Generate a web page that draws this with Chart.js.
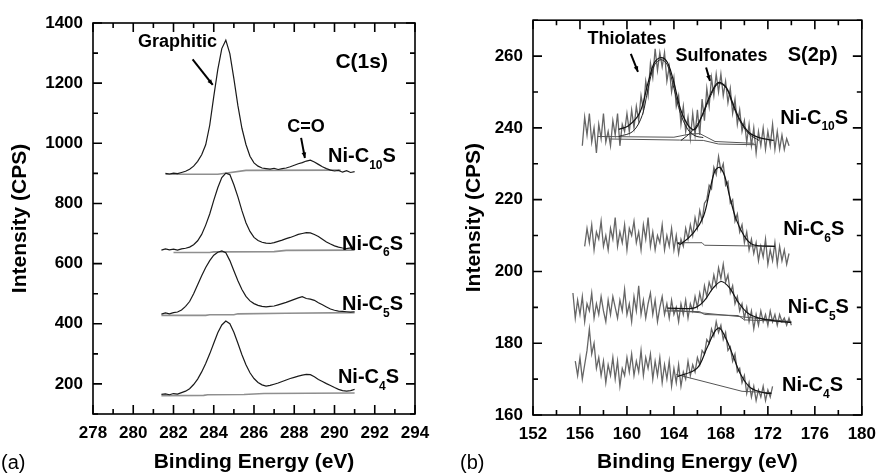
<!DOCTYPE html>
<html>
<head>
<meta charset="utf-8">
<script src="https://cdn.jsdelivr.net/npm/chart.js@4/dist/chart.umd.min.js"></script>
<style>
  body { margin: 0; background: #fff; }
  #wrap { position: relative; width: 885px; height: 475px; }
  #wrap canvas { position: absolute; top: 0; }
</style>
</head>
<body>
<div id="wrap">
  <canvas id="chartC" width="440" height="475" style="left:0"></canvas>
  <canvas id="chartS" width="445" height="475" style="left:440px"></canvas>
</div>
<script>
// ---- (a) C(1s) spectra, 0.2 eV steps ----
var cStep = 0.2;
var c10Start = 281.6;
var c10Counts = [900, 898, 901, 899, 903, 907, 914, 924, 940, 962, 995, 1060, 1155, 1245, 1315, 1343,
  1298, 1215, 1125, 1050, 996, 957, 935, 924, 918, 916, 914, 917, 913, 916, 918, 922, 927, 932, 936,
  941, 944, 938, 930, 922, 916, 911, 908, 910, 904, 909, 903, 906];
var c6Start = 281.4;
var c6Counts = [645, 649, 646, 648, 645, 649, 651, 655, 663, 676, 697, 728, 765, 810, 852, 886, 901,
  896, 862, 822, 776, 736, 707, 687, 677, 671, 668, 667, 670, 674, 678, 683, 687, 692, 697, 700, 703,
  702, 697, 690, 681, 672, 665, 659, 655, 652, 650, 652, 649];
var c5Start = 281.4;
var c5Counts = [432, 436, 433, 437, 439, 446, 458, 474, 500, 530, 560, 587, 610, 628, 638, 642, 636,
  610, 576, 543, 514, 491, 476, 467, 461, 458, 456, 458, 459, 463, 467, 471, 476, 481, 486, 490, 484,
  482, 478, 470, 463, 456, 449, 445, 442, 441, 440, 439, 440];
var c4Start = 281.4;
var c4Counts = [165, 167, 164, 168, 166, 171, 176, 184, 198, 216, 240, 268, 300, 335, 370, 396, 409,
  400, 372, 335, 297, 264, 237, 218, 205, 197, 193, 195, 199, 203, 208, 213, 218, 222, 226, 229, 232,
  231, 224, 215, 208, 201, 195, 188, 182, 178, 176, 178, 182];
var c10Base = [[281.6, 897], [284.2, 897], [284.4, 899], [285.6, 910], [290.3, 911]];
var c6Base = [[282.0, 637], [283.8, 637], [284.0, 639], [287.0, 640], [287.6, 644], [291.0, 645]];
var c5Base = [[281.4, 428], [283.6, 428], [283.8, 430], [285.0, 430], [285.2, 433], [287.6, 435], [291.0, 437]];
var c4Base = [[281.4, 161], [283.5, 162], [283.7, 164], [285.5, 165], [286.5, 168], [291.0, 170]];

// ---- (b) S(2p) spectra, 0.2 eV steps ----
var sStep = 0.2;
var s10Start = 156.2;
var s10Counts = [235, 243, 238, 244, 236, 240, 233, 241, 237, 244, 236, 239, 235, 242, 238, 244, 235,
  241, 239, 244, 239, 245, 240, 246, 242, 249, 245, 253, 249, 258, 254, 262, 256, 261, 257, 261, 253,
  257, 250, 254, 246, 249, 241, 246, 239, 243, 237, 244, 238, 245, 238, 248, 242, 251, 246, 254, 249,
  255, 250, 255, 249, 253, 247, 251, 244, 248, 241, 245, 239, 242, 236, 241, 235, 240, 233, 239, 235,
  240, 234, 239, 235, 241, 234, 239, 234, 238, 234, 237, 235];
var s6Start = 156.4;
var s6Counts = [207, 212, 208, 213, 206, 211, 209, 214, 207, 210, 206, 212, 209, 215, 207, 211, 208,
  213, 206, 212, 210, 214, 208, 211, 206, 213, 209, 215, 207, 211, 206, 210, 208, 213, 206, 210, 207,
  212, 206, 210, 205, 209, 207, 212, 209, 213, 210, 215, 212, 217, 214, 219, 220, 224, 223, 229, 227,
  232, 228, 230, 224, 225, 219, 220, 214, 216, 211, 213, 208, 211, 206, 209, 205, 208, 203, 207, 204,
  209, 202, 206, 203, 208, 202, 207, 203, 206, 202, 205];
var s5Start = 155.4;
var s5Counts = [194, 187, 192, 188, 193, 186, 191, 189, 194, 187, 191, 188, 193, 189, 186, 192, 188,
  193, 190, 187, 192, 189, 195, 188, 191, 186, 193, 189, 196, 188, 192, 187, 191, 194, 188, 192, 186,
  190, 193, 188, 191, 187, 192, 188, 190, 186, 191, 188, 192, 187, 191, 189, 193, 190, 194, 191, 196,
  193, 197, 195, 199, 196, 201, 198, 202, 197, 199, 194, 196, 191, 193, 189, 191, 187, 190, 186, 189,
  184, 188, 185, 189, 186, 188, 185, 189, 186, 188, 185, 188, 186, 187, 185, 187, 185];
var s4Start = 155.6;
var s4Counts = [175, 171, 176, 170, 174, 178, 184, 177, 180, 173, 176, 171, 175, 169, 174, 171, 176,
  170, 175, 168, 173, 171, 176, 172, 177, 171, 175, 172, 178, 171, 176, 173, 177, 170, 175, 171, 176,
  169, 174, 170, 175, 168, 173, 169, 174, 168, 172, 170, 175, 171, 174, 172, 176, 174, 178, 177, 181,
  180, 184, 182, 186, 183, 185, 181, 183, 178, 179, 175, 177, 172, 173, 169, 171, 166, 169, 165, 168,
  164, 167, 165, 168, 164, 167, 165, 168];
// fitted envelopes / components / backgrounds
var s10Fit = [[159.3, 239.6], [160.1, 240.5], [161.1, 244.3], [161.8, 252.6], [162.34, 258.2], [162.9, 259.6],
  [163.45, 258.2], [164.0, 252.6], [164.56, 245.2], [165.26, 240.5], [165.8, 239.6], [166.5, 244.3],
  [167.07, 249], [167.77, 252.6], [168.47, 251.2], [169.0, 247], [169.6, 242.4], [170.4, 238.7],
  [171.25, 237.3], [172.5, 236.5]];
var s10Thiol = [[159.3, 237.6], [160.5, 239], [161.3, 243.5], [161.8, 251], [162.34, 257.5], [162.9, 259],
  [163.45, 257.5], [164.0, 251], [164.56, 244], [165.2, 239.5], [165.8, 237.8], [166.5, 237.3]];
var s10Sulf = [[164.6, 236.5], [165.3, 238.3], [165.8, 240], [166.5, 244], [167.07, 248.5], [167.77, 252.3],
  [168.47, 251], [169.0, 246.5], [169.6, 242], [170.4, 238.3], [171.25, 236.5]];
var s10BaseA = [[157.5, 237.6], [164.0, 237.4], [165.4, 238.3], [166.2, 238.4], [167.5, 236.2], [170.8, 235.7]];
var s10BaseB = [[158.5, 236.9], [164.5, 236.6], [166.5, 236.5], [167.8, 235.5], [171.0, 235.3]];
var s6Fit = [[164.3, 208.0], [164.56, 207.6], [165.68, 210.8], [166.52, 215.4], [167.07, 222.8], [167.49, 228],
  [167.9, 229], [168.32, 226.6], [168.74, 221], [169.3, 214.5], [170.0, 209.8], [170.7, 207.5], [172.6, 207.0]];
var s6Base = [[164.3, 208], [166.4, 208], [166.6, 207.3], [172.6, 207]];
var s5Fit = [[163.45, 189.8], [165.68, 189.8], [166.52, 191.6], [167.35, 195.4], [168.05, 197.2], [168.74, 195.4],
  [169.44, 191.6], [170.28, 188.4], [171.25, 187], [172.92, 186.1], [174.0, 185.8]];
var s5BaseA = [[163.3, 189.0], [166.2, 188.8], [166.6, 188.0], [169.5, 187.7], [170.0, 186.5], [174.0, 186.0]];
var s5BaseB = [[163.7, 189.3], [173.7, 186.1]];
var s4Fit = [[164.3, 170.7], [165.96, 173], [166.8, 178.6], [167.49, 183.3], [167.9, 184.2], [168.47, 181],
  [169.0, 176.8], [169.7, 171.2], [170.55, 167.5], [171.8, 166.1], [172.3, 166.0]];
var s4Base = [[164.2, 171.3], [169.8, 166.6], [172.3, 166.2]];

var FONT = '"Liberation Sans", Arial, sans-serif';

function spectrum(start, step, counts) {
  return counts.map(function (v, i) { return { x: +(start + i * step).toFixed(2), y: v }; });
}
function pairs(list) {
  return list.map(function (p) { return { x: p[0], y: p[1] }; });
}
function line(data, color, width, tension) {
  return { data: data, showLine: true, borderColor: color, borderWidth: width,
    pointRadius: 0, tension: tension || 0, fill: false };
}

// inward ticks on all four sides plus the frame
var frameTicks = {
  id: 'frameTicks',
  afterDraw: function (chart, args, o) {
    var ctx = chart.ctx, a = chart.chartArea, x = chart.scales.x, y = chart.scales.y;
    ctx.save();
    ctx.strokeStyle = '#000';
    ctx.lineWidth = 1.6;
    ctx.strokeRect(a.left, a.top, a.right - a.left, a.bottom - a.top);
    ctx.beginPath();
    x.ticks.forEach(function (t) {
      var p = x.getPixelForValue(t.value);
      var len = Math.abs(t.value % o.xMajor) < 1e-6 ? 9 : 5;
      ctx.moveTo(p, a.bottom); ctx.lineTo(p, a.bottom - len);
      ctx.moveTo(p, a.top); ctx.lineTo(p, a.top + len);
    });
    y.ticks.forEach(function (t) {
      var p = y.getPixelForValue(t.value);
      var len = Math.abs(t.value % o.yMajor) < 1e-6 ? 9 : 5;
      ctx.moveTo(a.left, p); ctx.lineTo(a.left + len, p);
      ctx.moveTo(a.right, p); ctx.lineTo(a.right - len, p);
    });
    ctx.stroke();
    ctx.restore();
  }
};

// text labels and arrows, placed in data units
var notes = {
  id: 'notes',
  afterDraw: function (chart, args, o) {
    var ctx = chart.ctx, x = chart.scales.x, y = chart.scales.y;
    ctx.save();
    ctx.fillStyle = '#000';
    ctx.strokeStyle = '#000';
    (o.texts || []).forEach(function (t) {
      ctx.font = 'bold ' + t.size + 'px ' + FONT;
      ctx.textAlign = 'center';
      ctx.textBaseline = 'middle';
      ctx.fillText(t.text, x.getPixelForValue(t.x), y.getPixelForValue(t.y));
    });
    (o.arrows || []).forEach(function (r) {
      var x0 = x.getPixelForValue(r[0]), y0 = y.getPixelForValue(r[1]);
      var x1 = x.getPixelForValue(r[2]), y1 = y.getPixelForValue(r[3]);
      var ang = Math.atan2(y1 - y0, x1 - x0);
      ctx.lineWidth = 2;
      ctx.beginPath(); ctx.moveTo(x0, y0); ctx.lineTo(x1, y1); ctx.stroke();
      ctx.beginPath();
      ctx.moveTo(x1, y1);
      ctx.lineTo(x1 - 6 * Math.cos(ang - 0.4), y1 - 6 * Math.sin(ang - 0.4));
      ctx.lineTo(x1 - 6 * Math.cos(ang + 0.4), y1 - 6 * Math.sin(ang + 0.4));
      ctx.closePath(); ctx.fill();
    });
    (o.samples || []).forEach(function (s) {
      var px = x.getPixelForValue(s.x), py = y.getPixelForValue(s.y);
      ctx.textAlign = 'left';
      ctx.textBaseline = 'middle';
      ctx.font = 'bold 20px ' + FONT;
      ctx.fillText('Ni-C', px, py);
      var w = ctx.measureText('Ni-C').width;
      ctx.font = 'bold 12px ' + FONT;
      ctx.fillText(s.sub, px + w, py + 9);
      var w2 = ctx.measureText(s.sub).width;
      ctx.font = 'bold 20px ' + FONT;
      ctx.fillText('S', px + w + w2, py);
    });
    if (o.panel) {
      ctx.font = '20px ' + FONT;
      ctx.textAlign = 'left';
      ctx.textBaseline = 'middle';
      ctx.fillText(o.panel, o.panelX, 463);
    }
    ctx.restore();
  }
};

function axis(min, max, step, labelEvery, size, pad, title, titlePad) {
  return {
    type: 'linear', min: min, max: max,
    grid: { display: false, drawTicks: false },
    border: { display: false },
    ticks: {
      stepSize: step, autoSkip: false, maxRotation: 0, padding: pad, color: '#000',
      font: { family: FONT, size: 17, weight: 'bold' },
      callback: function (v) { return Math.abs(v % labelEvery) < 1e-6 ? String(v) : ''; }
    },
    title: { display: true, text: title, color: '#000', padding: titlePad,
      font: { family: FONT, size: 21, weight: 'bold' } },
    afterFit: function (s) { if (s.isHorizontal()) { s.height = size; } else { s.width = size; } }
  };
}

function renderCharts() {
  new Chart(document.getElementById('chartC').getContext('2d'), {
    type: 'scatter',
    data: {
      datasets: [
        line(spectrum(c10Start, cStep, c10Counts), '#1a1a1a', 1.2),
        line(spectrum(c6Start, cStep, c6Counts), '#1a1a1a', 1.2),
        line(spectrum(c5Start, cStep, c5Counts), '#1a1a1a', 1.2),
        line(spectrum(c4Start, cStep, c4Counts), '#1a1a1a', 1.2),
        line(pairs(c10Base), '#8f8f8f', 1.6),
        line(pairs(c6Base), '#8f8f8f', 1.6),
        line(pairs(c5Base), '#8f8f8f', 1.6),
        line(pairs(c4Base), '#8f8f8f', 1.6)
      ]
    },
    options: {
      responsive: false, animation: false, events: [],
      layout: { padding: { top: 23, right: 25, bottom: 0, left: 0 } },
      plugins: {
        legend: { display: false }, tooltip: { enabled: false },
        frameTicks: { xMajor: 2, yMajor: 200 },
        notes: {
          texts: [
            { text: 'Graphitic', x: 282.2, y: 1337, size: 18 },
            { text: 'C(1s)', x: 291.35, y: 1270, size: 21 },
            { text: 'C=O', x: 288.58, y: 1054, size: 18 }
          ],
          arrows: [[282.95, 1279, 283.95, 1194], [288.34, 1018, 288.53, 951]],
          samples: [
            { sub: '10', x: 289.68, y: 955 },
            { sub: '6', x: 290.37, y: 665 },
            { sub: '5', x: 290.37, y: 465 },
            { sub: '4', x: 290.17, y: 221 }
          ],
          panel: '(a)', panelX: 1
        }
      },
      scales: {
        x: axis(278, 294, 1, 2, 61, 9, 'Binding Energy (eV)', { top: 4, bottom: 0 }),
        y: axis(100, 1400, 100, 200, 93, 10, 'Intensity (CPS)', { top: 8, bottom: 0 })
      }
    },
    plugins: [frameTicks, notes]
  });

  new Chart(document.getElementById('chartS').getContext('2d'), {
    type: 'scatter',
    data: {
      datasets: [
        line(pairs(s10Fit), '#111', 1.2, 0.35),
        line(pairs(s10Thiol), '#222', 1, 0.35),
        line(pairs(s10Sulf), '#222', 1, 0.35),
        line(pairs(s6Fit), '#111', 1.2, 0.35),
        line(pairs(s5Fit), '#111', 1.2, 0.35),
        line(pairs(s4Fit), '#111', 1.2, 0.35),
        line(pairs(s10BaseA), '#555', 1),
        line(pairs(s10BaseB), '#555', 1),
        line(pairs(s6Base), '#555', 1),
        line(pairs(s5BaseA), '#555', 1),
        line(pairs(s5BaseB), '#555', 1),
        line(pairs(s4Base), '#555', 1),
        line(spectrum(s10Start, sStep, s10Counts), '#666', 1.3),
        line(spectrum(s6Start, sStep, s6Counts), '#666', 1.3),
        line(spectrum(s5Start, sStep, s5Counts), '#666', 1.3),
        line(spectrum(s4Start, sStep, s4Counts), '#666', 1.3)
      ]
    },
    options: {
      responsive: false, animation: false, events: [],
      layout: { padding: { top: 19, right: 17, bottom: 0, left: 0 } },
      plugins: {
        legend: { display: false }, tooltip: { enabled: false },
        frameTicks: { xMajor: 4, yMajor: 20 },
        notes: {
          texts: [
            { text: 'Thiolates', x: 160.0, y: 264.8, size: 18 },
            { text: 'Sulfonates', x: 168.05, y: 260.0, size: 18 },
            { text: 'S(2p)', x: 175.82, y: 260.3, size: 20 }
          ],
          arrows: [[160.33, 260.6, 160.94, 255.6], [166.74, 256.8, 167.07, 253.1]],
          samples: [
            { sub: '10', x: 173.06, y: 242.7 },
            { sub: '6', x: 173.3, y: 211.6 },
            { sub: '5', x: 173.7, y: 189.9 },
            { sub: '4', x: 173.2, y: 168.2 }
          ],
          panel: '(b)', panelX: 20
        }
      },
      scales: {
        x: axis(152, 180, 2, 4, 60, 9, 'Binding Energy (eV)', { top: 4, bottom: 0 }),
        y: axis(160, 270, 10, 20, 93, 10, 'Intensity (CPS)', { top: 22, bottom: 0 })
      }
    },
    plugins: [frameTicks, notes]
  });
}

document.addEventListener('DOMContentLoaded', renderCharts);
</script>
</body>
</html>
